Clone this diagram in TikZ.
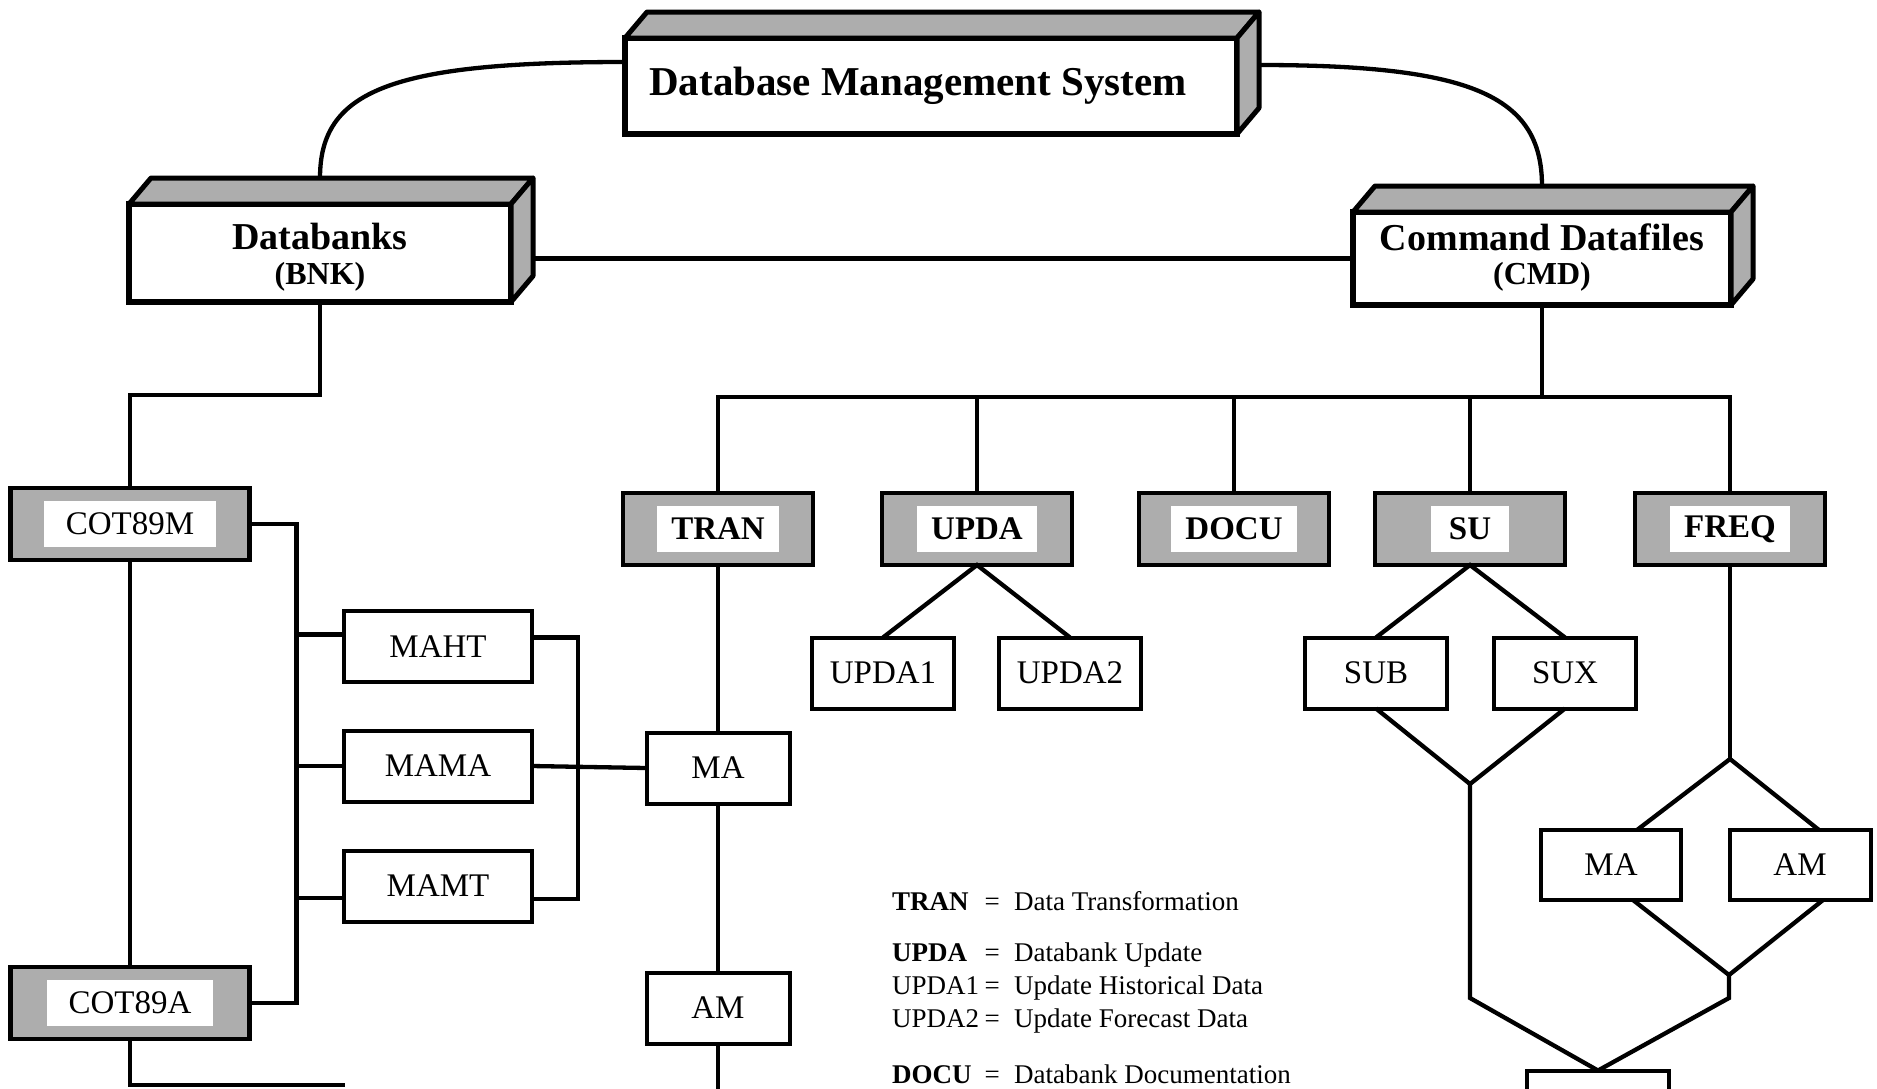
\documentclass[tikz,border=0pt]{standalone}
\usepackage{fontspec}
\setmainfont{Liberation Serif}
\definecolor{shade}{gray}{0.68}
\newcommand{\cubefaces}[1]{%
  \filldraw[fill=shade, line width=5pt, line join=round]
    (#1.north west) -- ([shift={(22,-26)}]#1.north west) -- ([shift={(22,-26)}]#1.north east) -- (#1.north east) -- cycle;
  \filldraw[fill=shade, line width=5pt, line join=round]
    (#1.north east) -- ([shift={(22,-26)}]#1.north east) -- ([shift={(22,-26)}]#1.south east) -- (#1.south east) -- cycle;}
\begin{document}
\begin{tikzpicture}[x=1pt,y=-1pt,
  ln/.style={line width=4.3pt, line join=miter},
  pbox/.style={draw, line width=4pt, fill=white, rectangle, inner sep=0pt, outer sep=0pt,
    minimum width=142pt, minimum height=71pt, font=\fontsize{33}{36}\selectfont},
  sbox/.style={draw, line width=4.5pt, fill=shade, rectangle, inner sep=0pt, outer sep=0pt,
    minimum width=190pt, minimum height=72pt},
  stext/.style={fill=white, inner xsep=14pt, inner ysep=0pt, minimum height=46pt,
    font=\fontsize{33}{36}\selectfont},
  cube/.style={draw, line width=5.5pt, fill=white, rectangle, inner sep=0pt, outer sep=0pt},
  ctitle/.style={font=\fontsize{38}{40}\selectfont\bfseries, inner sep=0pt},
  csub/.style={font=\fontsize{32}{34}\selectfont\bfseries, inner sep=0pt},
  leg/.style={font=\fontsize{27}{30}\selectfont, inner sep=0pt, anchor=base west},
]
\useasboundingbox (0,0) rectangle (1877,1088);
\fill[white] (0,0) rectangle (1877,1088);

% ---- 3D boxes
\node[cube, minimum width=612pt, minimum height=96pt] (dbms) at (931,86) {};
\cubefaces{dbms}
\node[inner sep=0pt, font=\fontsize{41}{44}\selectfont\bfseries] (dbmst) at (918,86)
  {Database Management System};

\node[cube, minimum width=382pt, minimum height=98pt] (bnk) at (320,253) {};
\cubefaces{bnk}
\node[ctitle] (bnkt) at (320,236) {Databanks};
\node[csub] (bnks) at (320,277) {(BNK)};

\node[cube, minimum width=378pt, minimum height=93pt] (cmd) at (1542,258.5) {};
\cubefaces{cmd}
\node[ctitle] (cmdt) at (1542,237) {Command Datafiles};
\node[csub] (cmds) at (1542,277) {(CMD)};

% ---- arcs and top connectors
\draw[ln] ([yshift=24pt]dbms.west) .. controls +(-235,0) and +(0,-87) .. ([yshift=26pt]bnk.north);
\draw[ln] ([xshift=22pt,yshift=21pt]dbms.east) .. controls +(211,0) and +(0,-91) .. ([yshift=26pt]cmd.north);
\coordinate (bnkR) at ([xshift=22pt]bnk.east);
\draw[ln] (bnkR |- cmd.west) -- (cmd.west);

% ---- shaded boxes
\node[sbox, minimum width=239pt] (cotm) at (130,524) {};
\node[stext, inner xsep=22pt] (cotmt) at (cotm) {COT89M};
\node[sbox, minimum width=239pt] (cota) at (130,1003) {};
\node[stext, inner xsep=22pt] (cotat) at (cota) {COT89A};

\node[sbox] (tran) at (718,529) {};
\node[stext, font=\fontsize{33}{36}\selectfont\bfseries] (trant) at (tran) {TRAN};
\node[sbox] (upda) at (977,529) {};
\node[stext, font=\fontsize{33}{36}\selectfont\bfseries] (updat) at (upda) {UPDA};
\node[sbox] (docu) at (1234,529) {};
\node[stext, font=\fontsize{33}{36}\selectfont\bfseries] (docut) at (docu) {DOCU};
\node[sbox] (su) at (1470,529) {};
\node[stext, font=\fontsize{33}{36}\selectfont\bfseries, inner xsep=18pt] (sut) at (su) {SU};
\node[sbox] (freq) at (1730,529) {};
\node[stext, font=\fontsize{33}{36}\selectfont\bfseries] (freqt) at (freq) {FREQ};

% ---- plain boxes
\node[pbox, minimum width=188pt] (maht) at (438,646.5) {MAHT};
\node[pbox, minimum width=188pt] (mama) at (438,766) {MAMA};
\node[pbox, minimum width=188pt] (mamt) at (438,886) {MAMT};
\node[pbox, minimum width=143pt] (ma1) at (718,768) {MA};
\node[pbox, minimum width=143pt] (am1) at (718,1008) {AM};
\node[pbox] (upda1) at (883,673) {UPDA1};
\node[pbox] (upda2) at (1070,673) {UPDA2};
\node[pbox] (sub) at (1376,673) {SUB};
\node[pbox] (sux) at (1565,673) {SUX};
\node[pbox, minimum width=140pt, minimum height=70pt] (ma2) at (1611,865) {MA};
\node[pbox, minimum width=141pt, minimum height=70pt] (am2) at (1800,865) {AM};
\node[pbox] (bot) at (1598,1106) {};

% ---- left tree
\draw[ln] (bnk.south) -- (bnk.south |- 0,395) -| (cotm.north);
\draw[ln] (cotm.south) -- (cota.north);
\draw[ln] (cotm.east) -- ++(47,0) coordinate (vr1) -- (vr1 |- cota.east) -- (cota.east);
\coordinate (cend) at (345,1085);
\draw[ln] (cota.south) -- (cota.south |- cend) -- (cend);
\coordinate (mahtL) at ([yshift=12pt]maht.west);
\coordinate (mamtL) at ([yshift=-12pt]mamt.west);
\coordinate (mahtR) at ([yshift=9pt]maht.east);
\coordinate (mamtR) at ([yshift=-13pt]mamt.east);
\draw[ln] (mahtL -| vr1) -- (mahtL);
\draw[ln] (mama.west -| vr1) -- (mama.west);
\draw[ln] (mamtL -| vr1) -- (mamtL);
\draw[ln] (mahtR) -- ++(46,0) coordinate (vr2) -- (vr2 |- mamtR) -- (mamtR);
\draw[ln] (mama.east) -- (ma1.west);
\draw[ln] (tran.south) -- (ma1.north);
\draw[ln] (ma1.south) -- (am1.north);
\coordinate (tend) at (718,1092);
\draw[ln] (am1.south) -- (tend);

% ---- command tree
\draw[ln] (cmd.south) -- (cmd.south |- 0,397);
\draw[ln] (tran.north) -- (tran.north |- 0,397) -- (freq.north |- 0,397) -- (freq.north);
\draw[ln] (upda.north |- 0,397) -- (upda.north);
\draw[ln] (docu.north |- 0,397) -- (docu.north);
\draw[ln] (su.north |- 0,397) -- (su.north);
\draw[ln] (upda1.north) -- (upda.south) -- (upda2.north);
\draw[ln] (sub.north) -- (su.south) -- (sux.north);
\coordinate (suj) at (1470,784);
\coordinate (sujb) at (1470,998);
\draw[ln] (sub.south) -- (suj) -- (sux.south);
\draw[ln] (suj) -- (sujb) -- (bot.north);
\coordinate (fqa) at (1730,759);
\coordinate (fqj) at (1729,975);
\coordinate (fqjb) at (1729,998);
\draw[ln] (freq.south) -- (fqa);
\draw[ln] ([xshift=26pt]ma2.north) -- (fqa) -- ([xshift=19pt]am2.north);
\draw[ln] ([xshift=22pt]ma2.south) -- (fqj) -- ([xshift=23pt]am2.south);
\draw[ln] (fqj) -- (fqjb) -- (bot.north);

% ---- legend
\node[leg] (lg1) at (892,910) {\makebox[92pt][l]{\bfseries TRAN}\makebox[16pt][c]{=}\hspace{14pt}Data Transformation};
\node[leg] (lg2) at (892,961) {\makebox[92pt][l]{\bfseries UPDA}\makebox[16pt][c]{=}\hspace{14pt}Databank Update};
\node[leg] (lg3) at (892,994) {\makebox[92pt][l]{UPDA1}\makebox[16pt][c]{=}\hspace{14pt}Update Historical Data};
\node[leg] (lg4) at (892,1027) {\makebox[92pt][l]{UPDA2}\makebox[16pt][c]{=}\hspace{14pt}Update Forecast Data};
\node[leg] (lg5) at (892,1083) {\makebox[92pt][l]{\bfseries DOCU}\makebox[16pt][c]{=}\hspace{14pt}Databank Documentation};
\end{tikzpicture}
\end{document}
